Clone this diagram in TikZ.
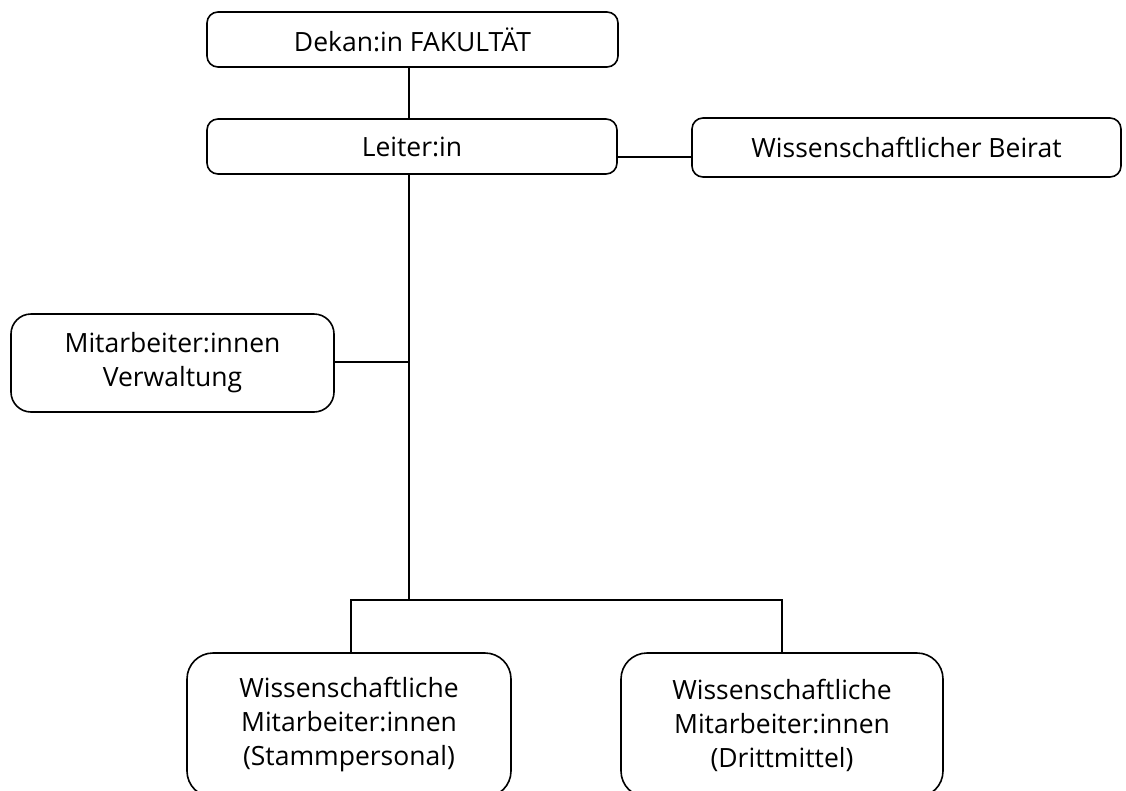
\documentclass[tikz,border=0pt]{standalone}
\usepackage{fontspec}
\setmainfont{Open Sans}
\begin{document}
\begin{tikzpicture}[x=1pt,y=-1pt,
  box/.style={draw=black, line width=1.6pt, fill=white, inner sep=0pt, align=center,
    font=\fontsize{26.5}{34}\selectfont},
  conn/.style={draw=black, line width=1.6pt}]
\useasboundingbox (0,0) rectangle (1126,790);
\node[box, rounded corners=11pt, minimum width=411pt, minimum height=55pt] (dekan) at (412.5,39.5) {Dekan:in FAKULTÄT};
\node[box, rounded corners=11pt, minimum width=410pt, minimum height=55pt] (leiter) at (412,146.5) {Leiter:in};
\node[box, rounded corners=11pt, minimum width=429pt, minimum height=59pt] (beirat) at (906.5,147.5) {Wissenschaftlicher Beirat};
\node[box, rounded corners=20pt, minimum width=323pt, minimum height=98pt] (verw) at (172.5,363) {Mitarbeiter:innen\\Verwaltung};
\node[box, rounded corners=26pt, minimum width=324pt, minimum height=144pt] (stamm) at (349,725) {Wissenschaftliche\\Mitarbeiter:innen\\(Stammpersonal)};
\node[box, rounded corners=26pt, minimum width=322pt, minimum height=144pt] (dritt) at (782,725) {Wissenschaftliche\\Mitarbeiter:innen\\(Drittmittel)};
\coordinate (spine) at (409,600);
\coordinate (vj) at (409,362);
\coordinate (bj) at (650,157);
\coordinate (lb) at (351,600);
\coordinate (rb) at (782,600);
\draw[conn] (dekan.south -| spine) -- (leiter.north -| spine);
\draw[conn] (leiter.south -| spine) -- (spine);
\draw[conn] (verw.east |- vj) -- (vj);
\draw[conn] (leiter.east |- bj) -- (beirat.west |- bj);
\draw[conn] (stamm.north -| lb) -- (lb) -- (rb) -- (dritt.north -| rb);
\end{tikzpicture}
\end{document}
